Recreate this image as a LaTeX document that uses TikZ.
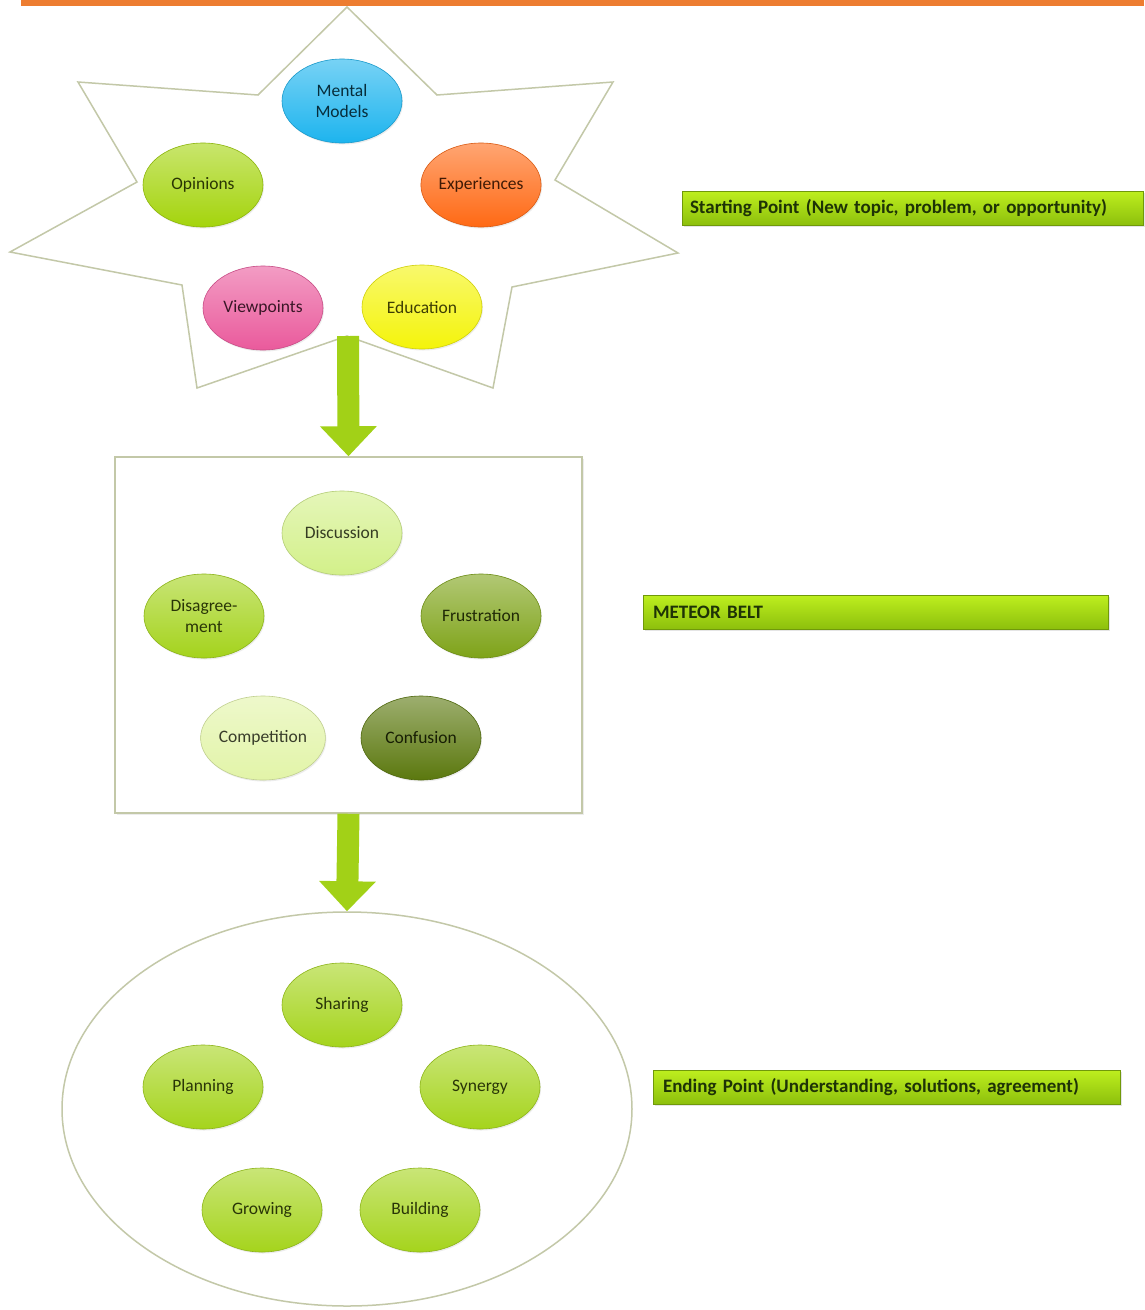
\documentclass[tikz,border=0pt]{standalone}
\usepackage{fontspec}
\setmainfont{Carlito}
\usepackage{xcolor}
\usetikzlibrary{shapes.geometric,shadows,arrows.meta}

\definecolor{topbar}{HTML}{ED7D31}
\definecolor{outline}{HTML}{C3C8A8}
\definecolor{lime}{HTML}{A2D117}
\definecolor{bannertop}{HTML}{BDEE1E}
\definecolor{bannerbot}{HTML}{8CBF0C}
\definecolor{bannertext}{HTML}{1E3306}
\definecolor{skyblue}{HTML}{1DB4EE}
\definecolor{yellowgreen}{HTML}{A4D40C}
\definecolor{deeporange}{HTML}{FF6914}
\definecolor{hotpink}{HTML}{EA5A9C}
\definecolor{brightyellow}{HTML}{F4F40A}
\definecolor{palegreen}{HTML}{D3F08A}
\definecolor{midgreen}{HTML}{A4D31C}
\definecolor{olivegreen}{HTML}{7EA318}
\definecolor{mintgreen}{HTML}{E2F4A8}
\definecolor{darkolive}{HTML}{5B780E}
\definecolor{endgreen}{HTML}{A5D41C}

\tikzset{
  bubble/.style={ellipse, minimum width=120pt, minimum height=84pt, inner sep=0pt,
    align=center, font=\fontsize{17.5}{21}\selectfont, draw=#1!85!black, line width=0.6pt,
    top color=#1!60!white, bottom color=#1, text=#1!25!black,
    drop shadow={opacity=0.15, shadow xshift=1pt, shadow yshift=-1.5pt}},
  banner/.style={rectangle, minimum height=34pt, inner sep=0pt, align=left,
    font=\fontsize{19}{22}\bfseries\selectfont, text=bannertext,
    draw=bannerbot!80!black, line width=0.4pt, top color=bannertop, bottom color=bannerbot,
    drop shadow={opacity=0.2, shadow xshift=1.5pt, shadow yshift=-1.5pt}},
  fatarrow/.style={draw=lime, line width=22pt, -{Triangle[length=30pt, width=55pt]}}
}

\begin{document}
\begin{tikzpicture}[x=1pt, y=-1pt]
  \useasboundingbox (0,0) rectangle (1144,1310);
  \fill[white] (0,0) rectangle (1144,1310);

  % Orange rule along the top
  \fill[topbar] (21,0) rectangle (1144,6);

  % Seven-point star holding the starting ideas
  \draw[outline, line width=1.5pt, fill=white, line join=miter]
    (347,7) -- (437,95) -- (613,82) -- (555,180) -- (678,253) -- (512,287)
    -- (493,388) -- (347,336) -- (197,388) -- (182,285) -- (10,252)
    -- (137,182) -- (78,82) -- (258,95) -- cycle;
  \coordinate (starbot) at (348,336);

  \node[bubble=skyblue] (mental) at (342,101) {Mental\\Models};
  \node[bubble=yellowgreen] (opinions) at (203,185) {Opinions};
  \node[bubble=deeporange] (experiences) at (481,185) {Experiences};
  \node[bubble=hotpink] (viewpoints) at (263,308) {Viewpoints};
  \node[bubble=brightyellow] (education) at (422,307) {Education};

  % Meteor belt box
  \node[draw=outline, line width=1.5pt, fill=white, minimum width=467pt, minimum height=356pt,
    drop shadow={opacity=0.15, shadow xshift=1.5pt, shadow yshift=-1.5pt}] (belt) at (348.5,635) {};

  \node[bubble=palegreen] (discussion) at (342,533) {Discussion};
  \node[bubble=midgreen] (disagree) at (204,616) {Disagree-\\ment};
  \node[bubble=olivegreen] (frustration) at (481,616) {Frustration};
  \node[bubble=mintgreen] (competition) at (263,738) {Competition};
  \node[bubble=darkolive] (confusion) at (421,738) {Confusion};

  % Ending ellipse
  \node[ellipse, draw=outline, line width=1.5pt, fill=white, minimum width=570pt,
    minimum height=394pt] (endzone) at (347,1109) {};

  \node[bubble=endgreen] (sharing) at (342,1005) {Sharing};
  \node[bubble=endgreen] (planning) at (203,1087) {Planning};
  \node[bubble=endgreen] (synergy) at (480,1087) {Synergy};
  \node[bubble=endgreen] (growing) at (262,1210) {Growing};
  \node[bubble=endgreen] (building) at (420,1210) {Building};

  % Block arrows between the stages
  \draw[fatarrow] (starbot) -- (belt.north);
  \draw[fatarrow] (belt.south) -- (endzone.north);

  % Stage labels on the right
  \node[banner, minimum width=461pt, text width=445pt] (startlbl) at (912.5,208.5)
    {Starting Point (New topic, problem, or opportunity)};
  \node[banner, minimum width=465pt, text width=445pt] (beltlbl) at (875.5,612.5)
    {METEOR BELT};
  \node[banner, minimum width=467pt, text width=447pt] (endlbl) at (886.5,1087.5)
    {Ending Point (Understanding, solutions, agreement)};
\end{tikzpicture}
\end{document}
